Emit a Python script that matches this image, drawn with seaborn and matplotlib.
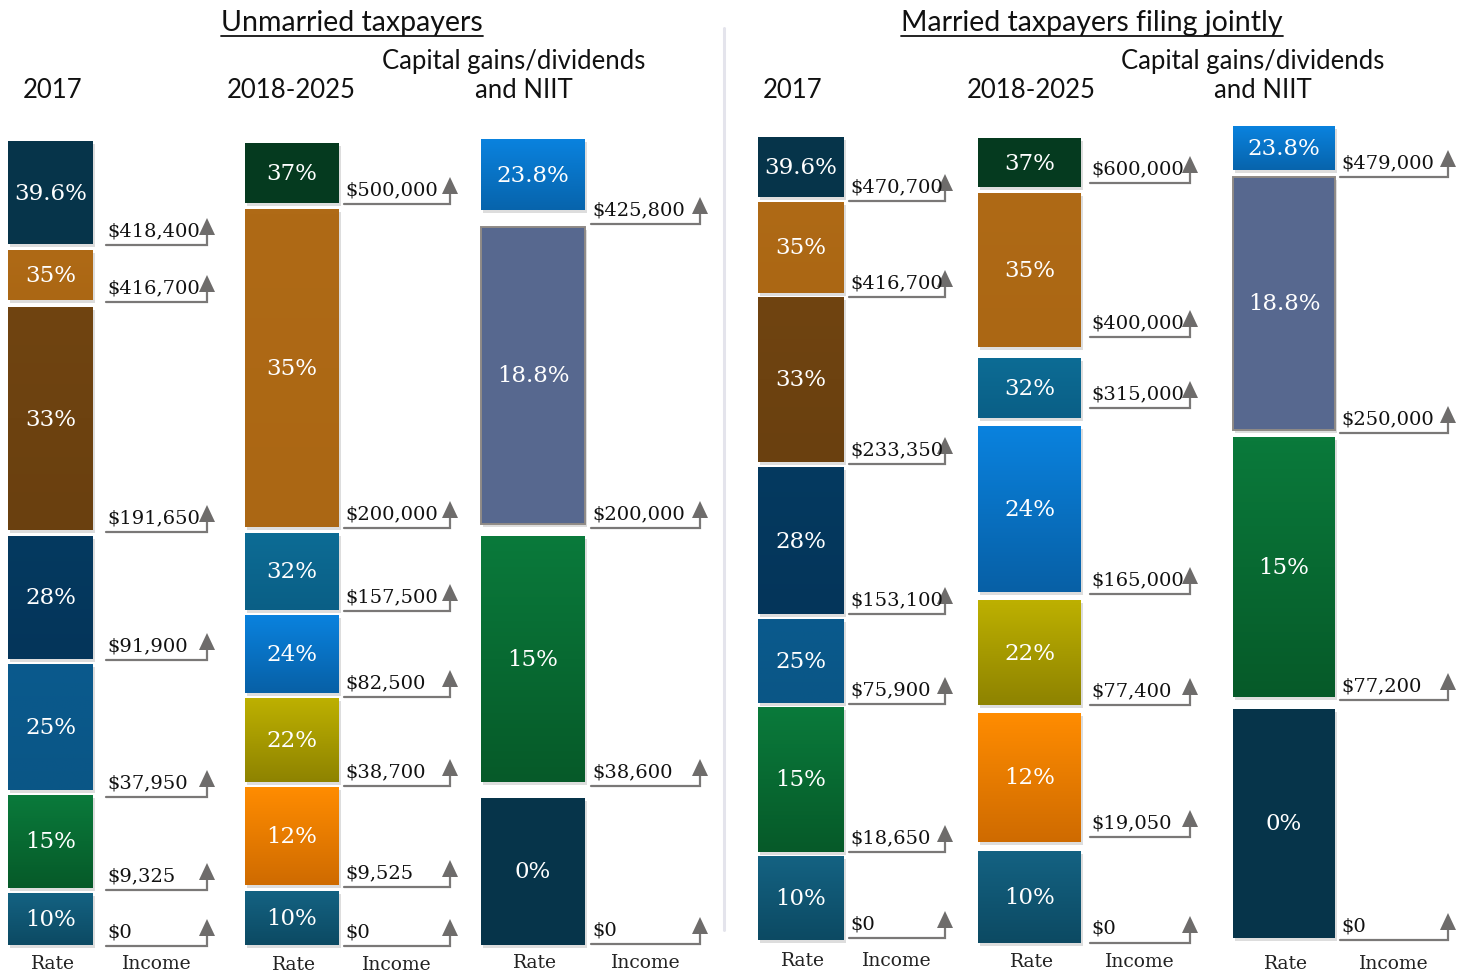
import numpy as np
import matplotlib
matplotlib.use("Agg")
import matplotlib.pyplot as plt
import matplotlib.patheffects as pe
from matplotlib.colors import LinearSegmentedColormap
import seaborn as sns

sns.set_theme(style="white")
plt.rcParams['font.family'] = ['DejaVu Serif']

# ---- data ----
panel_titles = ["Unmarried taxpayers", "Married taxpayers filing jointly"]
col_titles = [["2017"], ["2018-2025"], ["Capital gains/dividends", "and NIIT"]]

rates_single_2017 = ["39.6%", "35%", "33%", "28%", "25%", "15%", "10%"]
income_single_2017 = ["$418,400", "$416,700", "$191,650", "$91,900", "$37,950", "$9,325", "$0"]
rates_single_2018 = ["37%", "35%", "32%", "24%", "22%", "12%", "10%"]
income_single_2018 = ["$500,000", "$200,000", "$157,500", "$82,500", "$38,700", "$9,525", "$0"]
rates_single_cg = ["23.8%", "18.8%", "15%", "0%"]
income_single_cg = ["$425,800", "$200,000", "$38,600", "$0"]

rates_joint_2017 = ["39.6%", "35%", "33%", "28%", "25%", "15%", "10%"]
income_joint_2017 = ["$470,700", "$416,700", "$233,350", "$153,100", "$75,900", "$18,650", "$0"]
rates_joint_2018 = ["37%", "35%", "32%", "24%", "22%", "12%", "10%"]
income_joint_2018 = ["$600,000", "$400,000", "$315,000", "$165,000", "$77,400", "$19,050", "$0"]
rates_joint_cg = ["23.8%", "18.8%", "15%", "0%"]
income_joint_cg = ["$479,000", "$250,000", "$77,200", "$0"]

columns = [
    (rates_single_2017, income_single_2017),
    (rates_single_2018, income_single_2018),
    (rates_single_cg, income_single_cg),
    (rates_joint_2017, income_joint_2017),
    (rates_joint_2018, income_joint_2018),
    (rates_joint_cg, income_joint_cg),
]

# ---- styling: colour per rate (top, bottom of gradient) ----
colors = {
    "39.6%": ("#06344a", "#06344a"),
    "37%": ("#053a1f", "#053a1f"),
    "35%": ("#af6a16", "#ab6714"),
    "33%": ("#704411", "#6a400f"),
    "32%": ("#0d6c95", "#0a5f86"),
    "28%": ("#053a60", "#04355a"),
    "25%": ("#0a5a8d", "#0a5686"),
    "24%": ("#0a82de", "#0760a6"),
    "23.8%": ("#0a82de", "#0764ac"),
    "22%": ("#bdb000", "#8e8300"),
    "18.8%": ("#57688f", "#57688f"),
    "15%": ("#0a7a3b", "#065a29"),
    "12%": ("#ff8c00", "#cf6b00"),
    "10%": ("#146282", "#0c4a63"),
    "0%": ("#06344a", "#06344a"),
}

# ---- layout (pixel units of a 1468 x 975 canvas) ----
col_x = [(8, 93), (245, 339), (481, 585), (758, 844), (978, 1081), (1233, 1335)]
line_x = [(106, 207), (344, 450), (591, 700), (849, 945), (1090, 1190), (1340, 1448)]
box_spans = [
    [(141, 244), (250, 300), (307, 530), (536, 659), (664, 790), (795, 888), (893, 945)],
    [(143, 203), (209, 527), (533, 610), (615, 693), (698, 782), (787, 885), (891, 945)],
    [(139, 210), (227, 524), (536, 782), (798, 945)],
    [(137, 197), (202, 293), (297, 462), (467, 614), (619, 703), (707, 852), (856, 940)],
    [(138, 187), (193, 347), (358, 418), (426, 592), (600, 705), (713, 842), (851, 943)],
    [(126, 170), (177, 430), (437, 697), (709, 938)],
]
line_y = [
    [245, 302, 532, 660, 797, 890, 946],
    [204, 528, 611, 697, 786, 887, 946],
    [224, 528, 786, 944],
    [201, 297, 464, 614, 704, 852, 938],
    [183, 337, 408, 594, 705, 837, 943],
    [177, 433, 700, 940],
]
header_x = [53, 291, 514, 793, 1031, 1253]
panel_x = [352, 1092]
footer_y = [964, 965, 963, 961, 962, 964]

W, H = 1468, 975
fig = plt.figure(figsize=(W / 100, H / 100), dpi=100)
ax = fig.add_axes([0, 0, 1, 1])

sans = ['Lato', 'DejaVu Sans']
shadow = [pe.SimplePatchShadow(offset=(1.5, -2.5), shadow_rgbFace='#666666', alpha=0.22),
          pe.Normal()]

for ci, (rates, incomes) in enumerate(columns):
    left, right = col_x[ci]
    cx = (left + right) / 2
    for ri, rate in enumerate(rates):
        top, bot = box_spans[ci][ri]
        c_top, c_bot = colors[rate]
        edge = "#8f8a86" if rate == "18.8%" else "none"
        bar = ax.bar(cx, bot - top, bottom=top, width=right - left, color=c_top,
                     edgecolor=edge, linewidth=1.4 if edge != "none" else 0, zorder=2)[0]
        bar.set_path_effects(shadow)
        if c_top != c_bot:
            cmap = LinearSegmentedColormap.from_list(rate, [c_top, c_bot])
            im = ax.imshow(np.linspace(0, 1, 64).reshape(-1, 1), cmap=cmap, aspect='auto',
                           extent=(left, right, bot, top), origin='upper', zorder=3)
            im.set_clip_path(bar)
        ax.text(cx, (top + bot) / 2 + 1, rate, color="white", fontsize=16.5,
                ha="center", va="center", zorder=4)

        # income threshold marker
        x0, x1 = line_x[ci]
        ly = line_y[ci][ri]
        ax.plot([x0, x1, x1], [ly, ly, ly - 11], color="#7a7877", lw=1.6,
                solid_joinstyle="miter", zorder=2)
        ax.fill([x1 - 8, x1 + 8, x1], [ly - 10, ly - 10, ly - 27], color="#6e6c6b",
                lw=0, zorder=3)
        ax.text(x0 + 1, ly - 9, incomes[ri], color="#111111", fontsize=14,
                ha="left", va="baseline", zorder=4)

    # column header and footer
    head = col_titles[ci % 3]
    for li, line in enumerate(head):
        ax.text(header_x[ci] + 10 * li, 91 - 30 * (len(head) - 1 - li), line, family=sans,
                fontsize=18.5, ha="center", va="center", color="#111111")
    ax.text(cx + 2, footer_y[ci], "Rate", fontsize=13.5, ha="center", va="center",
            color="#222222")
    ax.text((line_x[ci][0] + line_x[ci][1]) / 2, footer_y[ci], "Income", fontsize=13.5,
            ha="center", va="center", color="#222222")

titles = []
for px, title in zip(panel_x, panel_titles):
    titles.append(ax.text(px, 31, title, family=sans, fontsize=20.5, ha="center",
                          va="baseline", color="#111111"))

# divider between panels
ax.plot([724, 724], [28, 930], color="#e4e4ec", lw=2.2, zorder=1)

ax.set_xlim(0, W)
ax.set_ylim(H, 0)
ax.axis("off")

# underline the panel titles
fig.canvas.draw()
inv = ax.transData.inverted()
for t in titles:
    bb = t.get_window_extent()
    (xa, _), (xb, _) = inv.transform([(bb.x0, bb.y0), (bb.x1, bb.y0)])
    ax.plot([xa, xb], [36, 36], color="#111111", lw=1.3)

ax.set_xlim(0, W)
ax.set_ylim(H, 0)
fig.savefig("out.png", dpi=100, facecolor="white")
